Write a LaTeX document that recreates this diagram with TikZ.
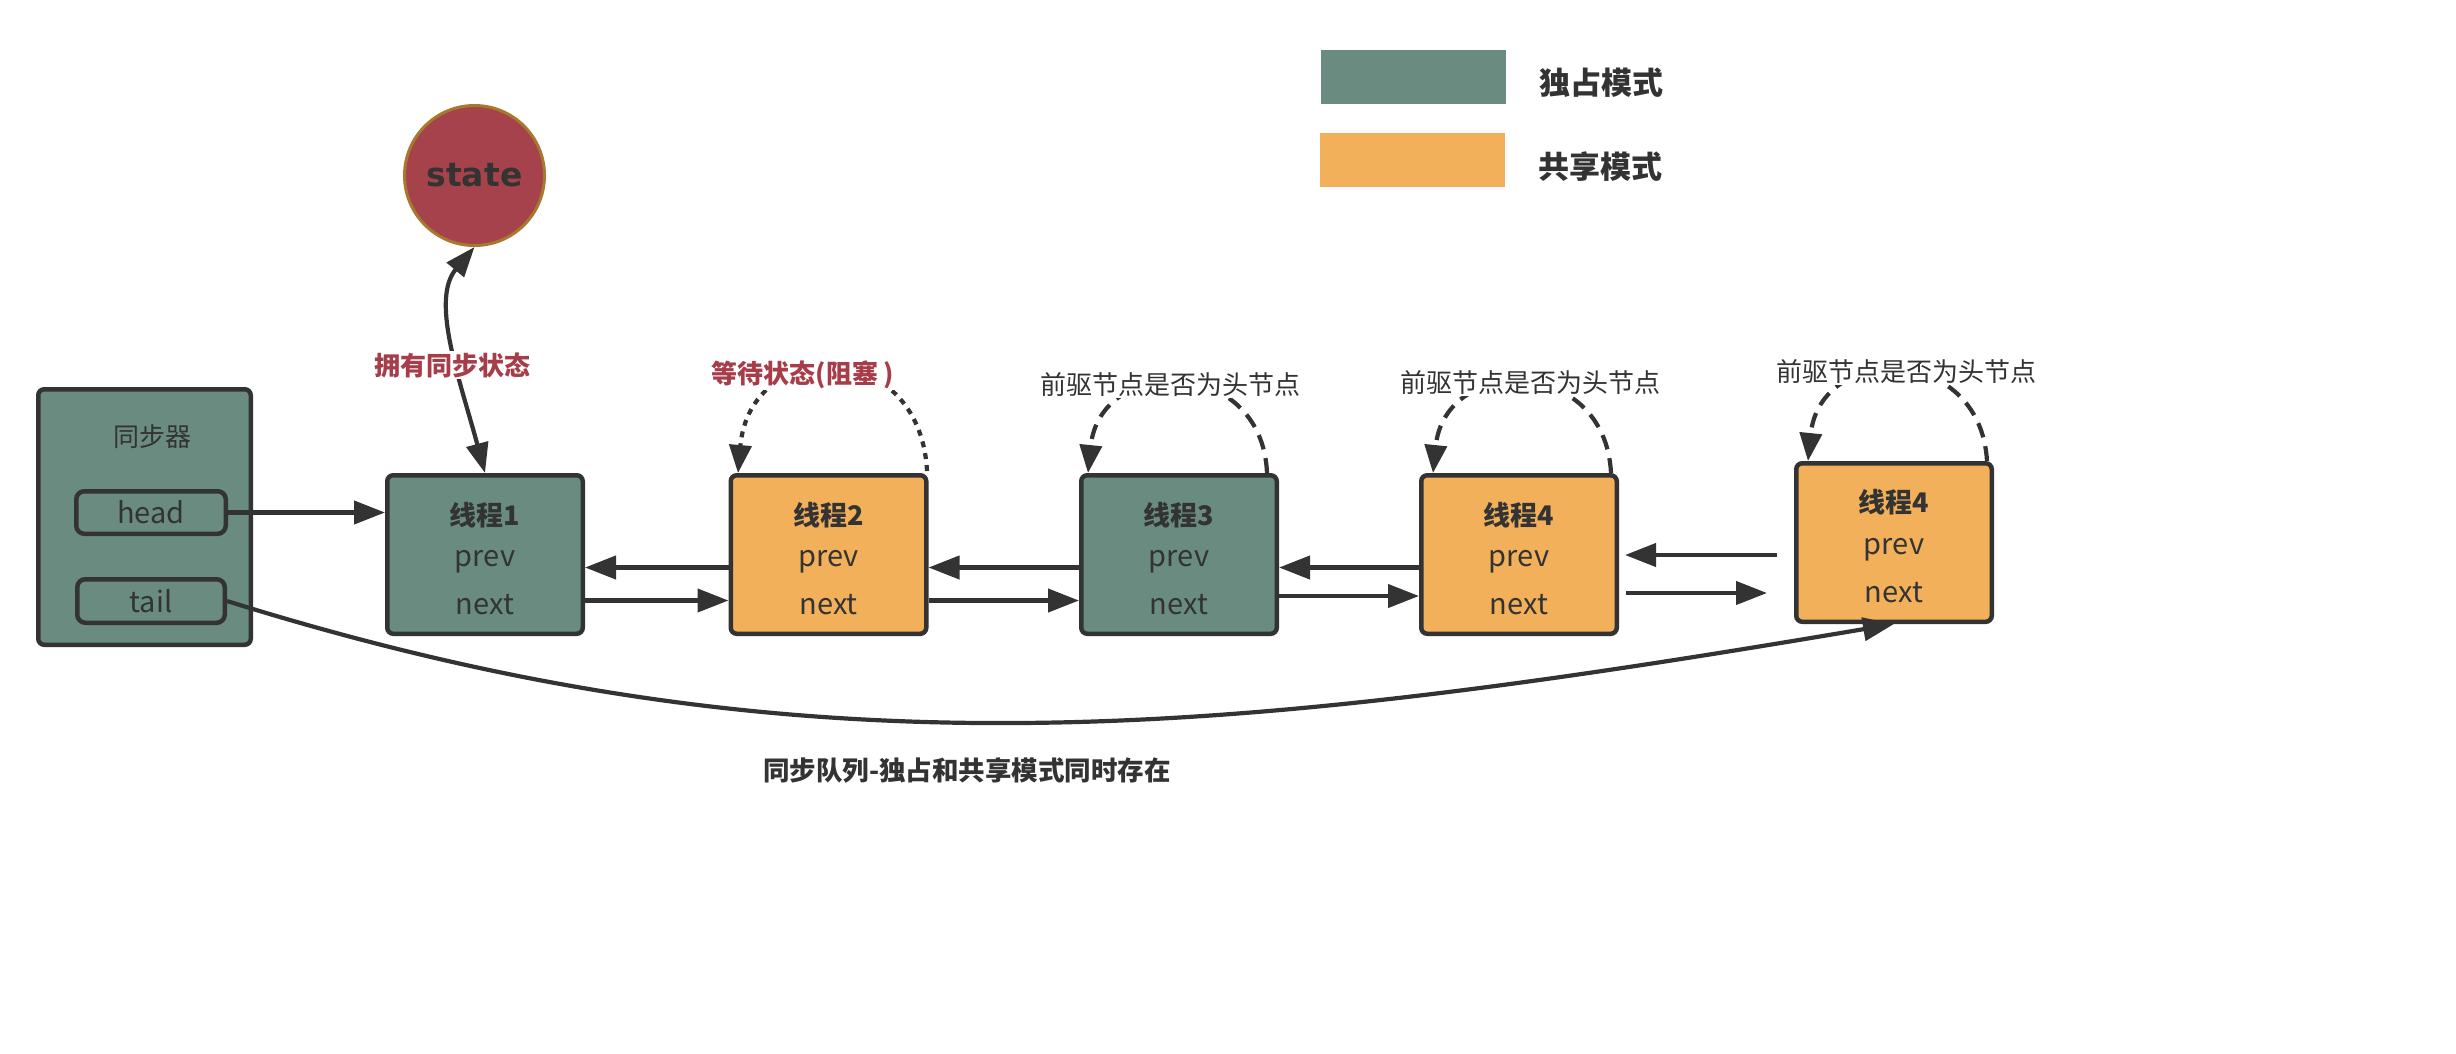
\documentclass[tikz,border=0pt]{standalone}
\usepackage{fontspec}
\setmainfont{Noto Sans CJK SC}
\newfontfamily\statefont{DejaVu Sans}
\usetikzlibrary{arrows.meta,calc}
\definecolor{grn}{HTML}{6A8C80}
\definecolor{org}{HTML}{F2B05A}
\definecolor{ink}{HTML}{333333}
\definecolor{redfill}{HTML}{A5424B}
\definecolor{redline}{HTML}{A8782E}
\definecolor{redtext}{HTML}{A63D48}
\begin{document}
\begin{tikzpicture}[x=1pt,y=-1pt,
  fs/.style={font=\fontsize{#1pt}{#1pt}\selectfont},
  fsb/.style={font=\fontsize{#1pt}{#1pt}\selectfont\bfseries},
  tbox/.style={draw=ink, line width=4.5pt, rounded corners=6pt, minimum width=195.5pt, minimum height=158.5pt, inner sep=0pt},
  gbox/.style={tbox, fill=grn},
  obox/.style={tbox, fill=org},
  tname/.style={text=ink, fsb=27, inner sep=0pt},
  field/.style={text=ink, fs=29, inner sep=0pt},
  arr/.style={draw=ink, line width=4.2pt, -{Triangle[length=31pt,width=23pt]}},
  dbl/.style={draw=ink, line width=4.2pt, {Triangle[length=30pt,width=22pt]}-{Triangle[length=30pt,width=22pt]}},
  note/.style={text=ink, fill=white, fs=26, inner sep=1pt},
  rnote/.style={text=redtext, fill=white, fsb=26, inner sep=1pt},
  dashloop/.style={draw=ink, line width=4.2pt, dash pattern=on 15pt off 9pt, -{Triangle[length=28pt,width=22pt]}},
  dotloop/.style={draw=ink, line width=4.2pt, dash pattern=on 6pt off 6pt, -{Triangle[length=28pt,width=22pt]}},
  legbox/.style={minimum width=185pt, minimum height=54pt, inner sep=0pt},
  legtext/.style={text=ink, fsb=31, inner sep=0pt}
]
\useasboundingbox (0,0) rectangle (2456,1053);

% legend
\node[legbox, fill=grn] (lg1) at (1413.5,77) {};
\node[legbox, fill=org] (lg2) at (1412,159.5) {};
\node[legtext] (lt1) at (1601,83) {独占模式};
\node[legtext] (lt2) at (1600,167) {共享模式};

% synchronizer
\node[draw=ink, line width=4.5pt, rounded corners=6pt, fill=grn, minimum width=212.5pt, minimum height=255.5pt, inner sep=0pt] (sync) at (144.5,517) {};
\node[text=ink, fs=26, inner sep=0pt] (syncname) at (152,437) {同步器};
\node[draw=ink, line width=4.5pt, rounded corners=8pt, fill=grn, minimum width=149.5pt, minimum height=42.5pt, inner sep=0pt, field] (head) at (151,512.5) {head};
\node[draw=ink, line width=4.5pt, rounded corners=8pt, fill=grn, minimum width=147.5pt, minimum height=43.5pt, inner sep=0pt, field] (tail) at (151,601) {tail};

% state
\node[circle, draw=redline, line width=3pt, fill=redfill, minimum size=140pt, inner sep=0pt, text=ink, font=\statefont\fontsize{33pt}{33pt}\selectfont\bfseries] (state) at (474.5,175.5) {state};

% thread boxes
\node[gbox] (t1) at (485,554.5) {};
\node[obox] (t2) at (828.5,554.5) {};
\node[gbox] (t3) at (1179,554.5) {};
\node[obox] (t4) at (1519,554.5) {};
\node[obox] (t5) at (1894,542.5) {};

\node[tname] (t1n) at (485,515) {线程1};
\node[field] (t1p) at (485,562) {prev};
\node[field] (t1x) at (485,605) {next};
\node[tname] (t2n) at (828.5,515) {线程2};
\node[field] (t2p) at (828.5,562) {prev};
\node[field] (t2x) at (828.5,605) {next};
\node[tname] (t3n) at (1179,515) {线程3};
\node[field] (t3p) at (1179,562) {prev};
\node[field] (t3x) at (1179,605) {next};
\node[tname] (t4n) at (1519,515) {线程4};
\node[field] (t4p) at (1519,562) {prev};
\node[field] (t4x) at (1519,605) {next};
\node[tname] (t5n) at (1894,502) {线程4};
\node[field] (t5p) at (1894,550) {prev};
\node[field] (t5x) at (1894,593) {next};

% head / tail connectors
\draw[arr] (head.east) -- (head.east -| t1.west);
\draw[arr] (tail.east) .. controls (800,780) and (1220,738) .. (t5.south);

% prev / next links
\draw[arr] ($(t2.west)+(0,13)$) -- ($(t1.east)+(0,13)$);
\draw[arr] ($(t1.east)+(0,46)$) -- ($(t2.west)+(0,46)$);
\draw[arr] ($(t3.west)+(0,13)$) -- ($(t2.east)+(0,13)$);
\draw[arr] ($(t2.east)+(0,46)$) -- ($(t3.west)+(0,46)$);
\draw[arr] ($(t4.west)+(0,13)$) -- ($(t3.east)+(0,13)$);
\draw[arr] ($(t3.east)+(0,41.5)$) -- ($(t4.west)+(0,41.5)$);
\coordinate (c1) at (1777,555);
\coordinate (c2) at (1767,593);
\draw[arr] (c1) -- ($(t4.east |- c1)+(6,0)$);
\draw[arr] ($(t4.east |- c2)+(7,0)$) -- (c2);

% state link
\draw[dbl] (t1.north) .. controls (460,380) and (430,300) .. (state.south);
\node[rnote] (lbl1) at (452,365) {拥有同步状态};

% self loops
\draw[dotloop] (927,471) .. controls (920,336) and (750,336) .. (738,473);
\node[rnote] (lbl2) at (803,375) {等待状态(阻塞 )};
\draw[dashloop] (1267,473) .. controls (1262,355) and (1100,355) .. (1088,473);
\node[note] (lbl3) at (1170,385) {前驱节点是否为头节点};
\draw[dashloop] (1611,473) .. controls (1605,355) and (1445,355) .. (1433,473);
\node[note] (lbl4) at (1530,383) {前驱节点是否为头节点};
\draw[dashloop] (1987,461) .. controls (1980,343) and (1820,343) .. (1808,461);
\node[note] (lbl5) at (1906,372) {前驱节点是否为头节点};

% caption
\node[text=ink, fsb=26.5, inner sep=0pt] (cap) at (967,770) {同步队列-独占和共享模式同时存在};
\end{tikzpicture}
\end{document}
